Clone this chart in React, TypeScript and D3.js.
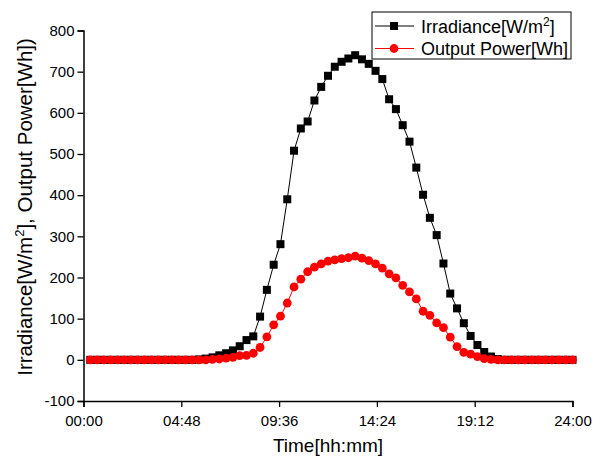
import React, { useEffect, useRef } from "react";
import * as d3 from "d3";

// readings every 20 minutes, starting 00:20
const startMinute = 20;
const stepMinute = 20;

const irradiance = [
  0, 0, 0, 0, 0, 0, 0, 0, 0, 0, 0, 0, 0, 0, 0, 0,
  1, 3, 6, 11, 16, 23, 33, 48, 57, 105, 170, 231, 281, 390,
  508, 562, 579, 630, 663, 690, 712, 724, 732, 740,
  730, 719, 702, 682, 633, 609, 570, 530, 467, 401,
  345, 303, 234, 161, 125, 89, 58, 36, 19, 8, 2,
  0, 0, 0, 0, 0, 0, 0, 0, 0, 0, 0,
];

const outputPower = [
  0, 0, 0, 0, 0, 0, 0, 0, 0, 0, 0, 0, 0, 0, 0, 0, 0, 0,
  1, 2, 4, 6, 10, 11, 16, 30, 56, 85, 106, 138,
  177, 196, 214, 225, 233, 240, 243, 246, 248, 252,
  247, 241, 233, 223, 209, 199, 181, 165, 148, 118,
  108, 90, 78, 55, 32, 18, 14, 8, 3, 1,
  0, 0, 0, 0, 0, 0, 0, 0, 0, 0, 0, 0,
];

const xTickMinutes = [0, 288, 576, 864, 1152, 1440];
const xTickLabels = ["00:00", "04:48", "09:36", "14:24", "19:12", "24:00"];
const yTicks = [-100, 0, 100, 200, 300, 400, 500, 600, 700, 800];

const FONT = "'Liberation Sans', Arial, sans-serif";

function App() {
  const chart = useRef<SVGSVGElement>(null);
  const width = 601;
  const height = 457;

  useEffect(() => {
    const svg = d3.select(chart.current);
    svg.selectAll("*").remove();

    const x = d3.scaleLinear().domain([0, 1440]).range([83.5, 572.5]);
    const y = d3.scaleLinear().domain([-100, 800]).range([401, 30.5]);

    const minutes = irradiance.map((_, i) => startMinute + i * stepMinute);

    // minor ticks halfway between the labelled ones
    const xMinor = xTickMinutes.slice(1).map((m) => m - 144);
    const yMinor = yTicks.slice(1).map((v) => v - 50);

    const gx = svg.append("g").attr("transform", `translate(0,${y(-100)})`);
    gx.call(
      d3.axisBottom(x).tickValues(xMinor).tickSize(3).tickFormat(() => "")
    );
    gx.call(
      d3
        .axisBottom(x)
        .tickValues(xTickMinutes)
        .tickSize(6)
        .tickPadding(8)
        .tickFormat((d, i) => xTickLabels[i])
    );

    const gy = svg.append("g").attr("transform", `translate(${x(0)},0)`);
    gy.call(d3.axisLeft(y).tickValues(yMinor).tickSize(3).tickFormat(() => ""));
    gy.call(
      d3
        .axisLeft(y)
        .tickValues(yTicks)
        .tickSize(6)
        .tickPadding(3)
        .tickFormat((d) => String(d))
    );

    svg.selectAll(".domain").attr("stroke", "#000").attr("stroke-width", 1.5);
    svg.selectAll(".tick line").attr("stroke", "#000").attr("stroke-width", 1.3);
    svg
      .selectAll(".tick text")
      .attr("font-family", FONT)
      .attr("font-size", 15)
      .attr("fill", "#000");

    // series
    const line = d3
      .line<number>()
      .x((d, i) => x(minutes[i]))
      .y((d) => y(d));

    svg
      .append("path")
      .datum(irradiance)
      .attr("d", line)
      .attr("fill", "none")
      .attr("stroke", "#000")
      .attr("stroke-width", 1);

    svg
      .selectAll(".sq")
      .data(irradiance)
      .enter()
      .append("rect")
      .attr("class", "sq")
      .attr("x", (d, i) => x(minutes[i]) - 4)
      .attr("y", (d) => y(d) - 4)
      .attr("width", 8)
      .attr("height", 8)
      .attr("fill", "#000");

    svg
      .append("path")
      .datum(outputPower)
      .attr("d", line)
      .attr("fill", "none")
      .attr("stroke", "#ff0000")
      .attr("stroke-width", 1);

    svg
      .selectAll(".dot")
      .data(outputPower)
      .enter()
      .append("circle")
      .attr("class", "dot")
      .attr("cx", (d, i) => x(minutes[i]))
      .attr("cy", (d) => y(d))
      .attr("r", 4.4)
      .attr("fill", "#ff0000");

    // axis titles
    svg
      .append("text")
      .attr("x", (x(0) + x(1440)) / 2)
      .attr("y", 452)
      .attr("text-anchor", "middle")
      .attr("font-family", FONT)
      .attr("font-size", 19)
      .text("Time[hh:mm]");

    const yTitle = svg
      .append("text")
      .attr("transform", "translate(32,207) rotate(-90)")
      .attr("text-anchor", "middle")
      .attr("font-family", FONT)
      .attr("font-size", 20.5);
    yTitle.append("tspan").text("Irradiance[W/m");
    yTitle.append("tspan").attr("dy", -8).attr("font-size", 13).text("2");
    yTitle.append("tspan").attr("dy", 8).text("], Output Power[Wh])");

    // legend
    const legend = svg.append("g");
    legend
      .append("rect")
      .attr("x", 372)
      .attr("y", 12)
      .attr("width", 199)
      .attr("height", 47)
      .attr("fill", "#fff")
      .attr("stroke", "#000")
      .attr("stroke-width", 1);

    const rows = [
      { y: 26, color: "#000", shape: "square" },
      { y: 48.5, color: "#ff0000", shape: "circle" },
    ];
    rows.forEach((r) => {
      legend
        .append("line")
        .attr("x1", 375)
        .attr("x2", 414)
        .attr("y1", r.y)
        .attr("y2", r.y)
        .attr("stroke", r.color)
        .attr("stroke-width", 1);
      if (r.shape === "square") {
        legend
          .append("rect")
          .attr("x", 390)
          .attr("y", r.y - 4)
          .attr("width", 8)
          .attr("height", 8)
          .attr("fill", r.color);
      } else {
        legend
          .append("circle")
          .attr("cx", 394)
          .attr("cy", r.y)
          .attr("r", 4.4)
          .attr("fill", r.color);
      }
    });

    const t1 = legend
      .append("text")
      .attr("x", 421)
      .attr("y", 33)
      .attr("font-family", FONT)
      .attr("font-size", 18);
    t1.append("tspan").text("Irradiance[W/m");
    t1.append("tspan").attr("dy", -7).attr("font-size", 12).text("2");
    t1.append("tspan").attr("dy", 7).text("]");

    legend
      .append("text")
      .attr("x", 421)
      .attr("y", 55)
      .attr("font-family", FONT)
      .attr("font-size", 18)
      .text("Output Power[Wh]");
  }, []);

  return (
    <svg
      ref={chart}
      width={width}
      height={height}
      style={{ position: "absolute", left: 0, top: 0, background: "#fff" }}
    ></svg>
  );
}

export default App;
